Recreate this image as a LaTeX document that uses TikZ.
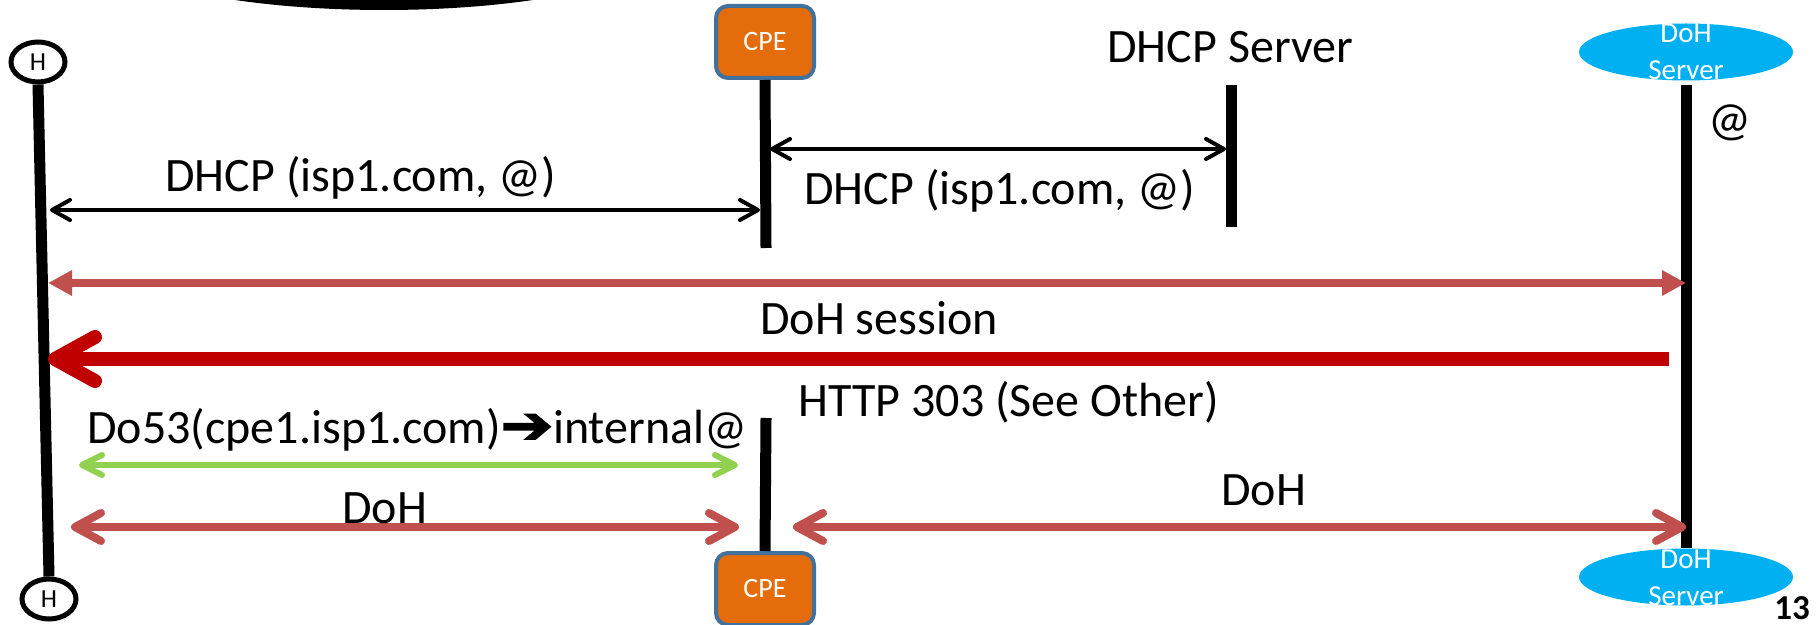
\documentclass[tikz,border=0pt]{standalone}
\usepackage{fontspec}
\setmainfont{Carlito}
\newfontfamily\symfont[FakeBold=3]{DejaVu Sans}
\usetikzlibrary{arrows.meta,shapes.geometric}

\definecolor{msgred}{HTML}{C0504D}
\definecolor{darkred}{HTML}{C00000}
\definecolor{lgreen}{HTML}{92D050}
\definecolor{skyblue}{HTML}{00B0F0}
\definecolor{cpeorange}{HTML}{E46C0A}
\definecolor{cpeborder}{HTML}{41719C}

\newcommand{\heavyarrow}{\scalebox{1.2}[1]{\symfont\fontsize{26}{26}\selectfont ➔}}

\tikzset{
  lbl/.style={font=\fontsize{24}{28}\selectfont, inner sep=0pt, anchor=base west},
  lifeline/.style={line width=5.5pt},
  host/.style={ellipse, draw, line width=2.5pt, minimum width=27pt, minimum height=20pt,
    inner sep=0pt, font=\fontsize{13}{15}\selectfont},
  cpebox/.style={rectangle, rounded corners=6pt, fill=cpeorange, draw=cpeborder,
    line width=2pt, minimum width=49pt, minimum height=36pt, inner sep=0pt,
    text=white, font=\fontsize{14}{16}\selectfont},
  dohsrv/.style={ellipse, fill=skyblue, minimum width=107pt, minimum height=28.5pt, inner sep=0pt},
  dohtxt/.style={text=white, font=\fontsize{14.5}{18}\selectfont, inner sep=0pt, anchor=base},
  dhcpmsg/.style={draw=black, line width=2pt,
    {Straight Barb[length=9pt,width=10pt,round]}-{Straight Barb[length=9pt,width=10pt,round]}},
  sessmsg/.style={draw=msgred, line width=4pt,
    {Triangle[length=12pt,width=12pt]}-{Triangle[length=12pt,width=12pt]}},
  redirect/.style={draw=darkred, line width=7pt,
    -{Straight Barb[length=20pt,width=22pt,round]}},
  localmsg/.style={draw=lgreen, line width=3pt,
    {Straight Barb[length=10pt,width=10pt,round]}-{Straight Barb[length=10pt,width=10pt,round]}},
  dohmsg/.style={draw=msgred, line width=4pt,
    {Straight Barb[length=13pt,width=14pt,round]}-{Straight Barb[length=13pt,width=14pt,round]}}
}

\begin{document}
\begin{tikzpicture}[x=0.5pt,y=-0.5pt]
\useasboundingbox (0,0) rectangle (1818,625);

% black shape cut by the upper edge
\begin{scope}
  \clip (0,0) rectangle (1818,625);
  \fill[black] (384,-60) ellipse [x radius=289, y radius=70];
\end{scope}

% participants
\node[host] (Htop) at (38,62) {H};
\node[host] (Hbot) at (49,599) {H};
\node[cpebox] (CPEtop) at (765,42) {CPE};
\node[cpebox] (CPEbot) at (765,589) {CPE};
\node[dohsrv] (DoHtop) at (1686,52) {};
\node[dohsrv] (DoHbot) at (1686,577) {};
\node[dohtxt] (DoHtopA) at (1686,43) {DoH};
\node[dohtxt] (DoHtopB) at (1686,80) {Server};
\node[dohtxt] (DoHbotA) at (1686,568) {DoH};
\node[dohtxt] (DoHbotB) at (1686,605) {Server};
\node[lbl] (dhcps) at (1107,63) {DHCP Server};

% lifeline end points
\coordinate (cpeTopEnd) at (766,248);
\coordinate (cpeBotStart) at (766,418);
\coordinate (dsTop) at (1231,85);
\coordinate (dsBot) at (1231,227);
\coordinate (dohTop) at (1686,85);
\coordinate (dohBot) at (1686,548);

% lifelines
\draw[lifeline] (Htop.south) -- (Hbot.north);
\draw[lifeline] (CPEtop.south) -- (cpeTopEnd);
\draw[lifeline] (cpeBotStart) -- (CPEbot.north);
\draw[lifeline] (dsTop) -- (dsBot);
\draw[lifeline] (dohTop) -- (dohBot);

% message end points
\coordinate (h1) at (50,210);   \coordinate (c1) at (760,210);
\coordinate (c2) at (770,149);  \coordinate (s2) at (1226,149);
\coordinate (h3) at (48,283);   \coordinate (d3) at (1686,283);
\coordinate (d4) at (1669,359); \coordinate (h4) at (48,359);
\coordinate (h5) at (79,465);   \coordinate (c5) at (738,465);
\coordinate (h6) at (71,527);   \coordinate (c6) at (739,527);
\coordinate (c7) at (793,527);  \coordinate (d7) at (1686,527);

% messages
\draw[dhcpmsg] (h1) -- (c1);
\draw[dhcpmsg] (c2) -- (s2);
\draw[sessmsg] (h3) -- (d3);
\draw[redirect] (d4) -- (h4);
\draw[localmsg] (h5) -- (c5);
\draw[dohmsg] (h6) -- (c6);
\draw[dohmsg] (c7) -- (d7);

% labels
\node[lbl] (l1) at (165,192) {DHCP (isp1.com, @)};
\node[lbl] (l2) at (804,205) {DHCP (isp1.com, @)};
\node[lbl] (l3) at (760,335) {DoH session};
\node[lbl] (l4) at (798,416) {HTTP 303 (See Other)};
\node[lbl] (l5) at (87,443) {Do53(cpe1.isp1.com)\heavyarrow internal@};
\node[lbl] (l6) at (342,523) {DoH};
\node[lbl] (l7) at (1221,505) {DoH};
\node[lbl] (addr) at (1708,136) {@};
\node[inner sep=0pt, anchor=base west, font=\fontsize{17.5}{20}\selectfont\bfseries] (pg) at (1774,619) {13};
\end{tikzpicture}
\end{document}
